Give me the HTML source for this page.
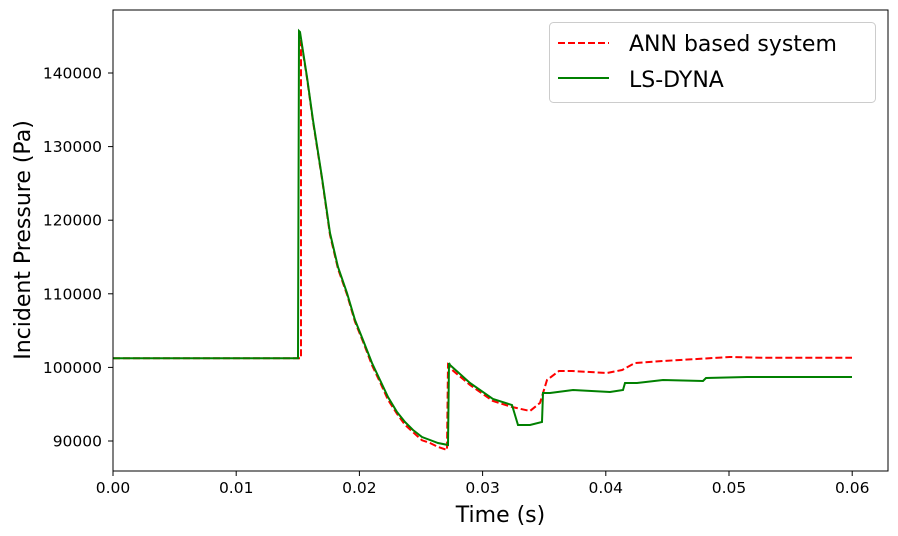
<!DOCTYPE html>
<html><head><meta charset="utf-8"><style>
body{margin:0;background:#fff;width:898px;height:536px;overflow:hidden}
svg{display:block;font-family:"DejaVu Sans","Liberation Sans",sans-serif}
</style></head><body>
<svg id="chart" width="898" height="536"></svg>
<script>
const xTicks=[0,0.01,0.02,0.03,0.04,0.05,0.06];
const xTickLabels=["0.00","0.01","0.02","0.03","0.04","0.05","0.06"];
const yTicks=[90000,100000,110000,120000,130000,140000];
const yTickLabels=["90000","100000","110000","120000","130000","140000"];
const lsTime=[0,0.01502,0.0151,0.01518,0.01575,0.01623,0.01696,0.01761,0.01826,0.01899,0.01964,0.02029,0.02102,0.02167,0.02232,0.02305,0.0237,0.02435,0.02508,0.02573,0.02638,0.02719,0.02727,0.02735,0.02898,0.03084,0.03239,0.03287,0.03385,0.03482,0.0349,0.03547,0.03734,0.04034,0.0414,0.04156,0.04253,0.04464,0.04789,0.04813,0.05146,0.05552,0.05998];
const lsPressure=[101250,101250,145700,145570,139460,133600,125870,118260,113640,110110,106440,103720,100600,98290,95980,93940,92580,91500,90540,90140,89730,89460,100600,100330,97880,95710,94890,92180,92180,92580,96520,96520,96930,96660,96930,97880,97880,98290,98150,98560,98700,98700,98700];
const annTime=[0,0.01502,0.01526,0.01526,0.01575,0.01623,0.01696,0.01761,0.01826,0.01899,0.01964,0.02029,0.02102,0.02167,0.02232,0.02305,0.0237,0.02435,0.02508,0.02573,0.02638,0.02711,0.02719,0.02735,0.02898,0.03084,0.03239,0.03385,0.03466,0.03523,0.0362,0.03726,0.0401,0.04132,0.04237,0.04464,0.05008,0.05276,0.05998];
const annPressure=[101250,101250,101250,144480,139300,133400,125700,118000,113400,109900,106200,103500,100300,98000,95600,93700,92200,91200,90100,89730,89200,88780,100300,99900,97610,95440,94620,94080,95170,98290,99510,99510,99240,99650,100600,100870,101410,101300,101300];
const NS="http://www.w3.org/2000/svg";
const svg=document.getElementById('chart');
const L=113,R=888,T=10,B=471;
const X=t=>L+t*12320;
const Y=p=>73+(140000-p)/1000*7.36;
function mk(tag,attrs,parent){const e=document.createElementNS(NS,tag);for(const k in attrs)e.setAttribute(k,attrs[k]);(parent||svg).appendChild(e);return e;}
const g=mk('g',{});


xTicks.forEach((t,i)=>{
  const l=mk('line',{x1:X(t),x2:X(t),y1:B,y2:B+5,stroke:'#000','stroke-width':1},g);
  
  
  const tx=mk('text',{x:X(t),y:B+22,'text-anchor':'middle','font-size':15.5},g);
  tx.textContent=xTickLabels[i];
  
  
});
yTicks.forEach((p,i)=>{
  const l=mk('line',{x1:L-5,x2:L,y1:Y(p),y2:Y(p),stroke:'#000','stroke-width':1},g);
  
  
  const tx=mk('text',{x:L-11,y:Y(p)+5.5,'text-anchor':'end','font-size':15.5},g);
  tx.textContent=yTickLabels[i];
  
  
});
function pts(ts,ps){return ts.map((t,i)=>X(t).toFixed(1)+','+Y(ps[i]).toFixed(1)).join(' ');}
const ann=mk('polyline',{points:pts(annTime,annPressure),fill:'none',stroke:'#ff0000','stroke-width':2,'stroke-dasharray':'7,3'});


const ls=mk('polyline',{points:pts(lsTime,lsPressure),fill:'none',stroke:'#008000','stroke-width':2});


const frame=mk('rect',{x:L,y:T,width:R-L,height:B-T,fill:'none',stroke:'#000','stroke-width':1});


const xt=mk('text',{x:(L+R)/2,y:522,'text-anchor':'middle','font-size':22});
xt.textContent='Time (s)';


const yt=mk('text',{x:0,y:0,'text-anchor':'middle','font-size':22,transform:'translate(30,240) rotate(-90)'});
yt.textContent='Incident Pressure (Pa)';


const lg=mk('g',{});


mk('rect',{x:549.5,y:22.5,width:326,height:80,rx:4,fill:'#fff','fill-opacity':0.8,stroke:'#ccc'},lg);
const l1=mk('line',{x1:558,x2:609,y1:43,y2:43,stroke:'#ff0000','stroke-width':2,'stroke-dasharray':'7,3'},lg);


const t1=mk('text',{x:629,y:51,'font-size':22},lg);t1.textContent='ANN based system';


const l2=mk('line',{x1:558,x2:609,y1:78,y2:78,stroke:'#008000','stroke-width':2},lg);


const t2=mk('text',{x:629,y:87,'font-size':22},lg);t2.textContent='LS-DYNA';


</script>
</body></html>
